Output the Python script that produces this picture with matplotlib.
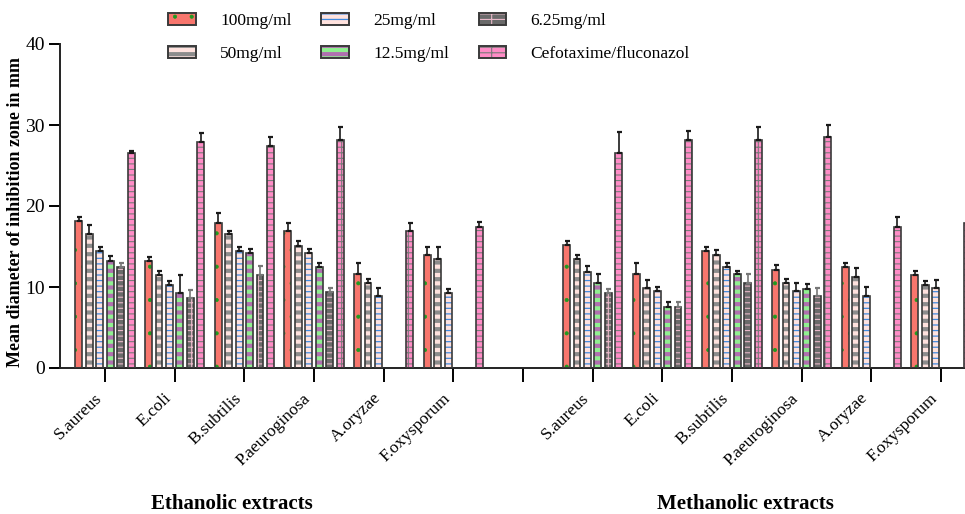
import numpy as np
import matplotlib
matplotlib.use("Agg")
import matplotlib.pyplot as plt
from matplotlib.patches import Patch, Rectangle
from matplotlib.colors import to_rgba
from matplotlib.legend_handler import HandlerTuple

plt.rcParams['font.family'] = ['Liberation Serif', 'DejaVu Serif']

organisms = ['S.aureus', 'E.coli', 'B.subtilis', 'P.aeuroginosa', 'A.oryzae', 'F.oxysporum']
series_names = ['100mg/ml', '50mg/ml', '25mg/ml', '12.5mg/ml', '6.25mg/ml', 'Cefotaxime/fluconazol']
nan = np.nan

eth_100 = [18.2, 13.2, 17.9, 16.9, 11.6, 13.9]
eth_50 = [16.5, 11.5, 16.5, 15.1, 10.5, 13.5]
eth_25 = [14.4, 10.2, 14.4, 14.2, 8.9, 9.2]
eth_12 = [13.2, 9.2, 14.2, 12.5, nan, nan]
eth_6 = [12.5, 8.6, 11.5, 9.4, nan, nan]
eth_std = [26.5, 27.9, 27.4, 28.2, 16.9, 17.4]

eth_100_err = [0.5, 0.5, 1.2, 1.0, 1.4, 1.1]
eth_50_err = [1.1, 0.5, 0.4, 0.6, 0.5, 1.5]
eth_25_err = [0.5, 0.5, 0.5, 0.5, 1.0, 0.5]
eth_12_err = [0.6, 2.3, 0.5, 0.5, nan, nan]
eth_6_err = [0.5, 1.0, 1.1, 0.5, nan, nan]
eth_std_err = [0.3, 1.1, 1.1, 1.6, 1.0, 0.6]

meth_100 = [15.2, 11.6, 14.5, 12.1, 12.5, 11.5]
meth_50 = [13.5, 9.9, 13.9, 10.5, 11.2, 10.2]
meth_25 = [11.9, 9.5, 12.5, 9.5, 8.9, 9.9]
meth_12 = [10.5, 7.5, 11.6, 9.8, nan, nan]
meth_6 = [9.2, 7.5, 10.5, 8.9, nan, nan]
meth_std = [26.5, 28.2, 28.2, 28.5, 17.4, 17.9]

meth_100_err = [0.5, 1.4, 0.5, 0.6, 0.5, 0.5]
meth_50_err = [0.5, 1.0, 0.7, 0.5, 1.2, 0.6]
meth_25_err = [0.7, 0.5, 0.5, 1.0, 1.1, 1.0]
meth_12_err = [1.1, 0.6, 0.4, 0.6, nan, nan]
meth_6_err = [0.5, 0.6, 1.1, 1.0, nan, nan]
meth_std_err = [2.6, 1.1, 1.6, 1.5, 1.3, 0.0]

eth_vals = [eth_100, eth_50, eth_25, eth_12, eth_6, eth_std]
eth_errs = [eth_100_err, eth_50_err, eth_25_err, eth_12_err, eth_6_err, eth_std_err]
meth_vals = [meth_100, meth_50, meth_25, meth_12, meth_6, meth_std]
meth_errs = [meth_100_err, meth_50_err, meth_25_err, meth_12_err, meth_6_err, meth_std_err]

# styles: face, hatch, hatch colour, hatch linewidth
styles = [
    ('#F8766D', '.', '#1f9a1f', 0.5),
    ('#FFE2DE', '--', '#8c8c8c', 3.0),
    ('#FFE2DE', '---', '#3f8ae0', 0.9),
    ('#90F090', '--', '#B070B0', 3.0),
    ('#6A6A6A', '---|', '#E8B8C8', 0.8),
    ('#FF8CC6', '---|', '#7a7a7a', 0.8),
]
edge_col = '#3a3a3a'


def set_hatch_width(p, hlw):
    if hasattr(p, 'set_hatch_linewidth'):
        try:
            p.set_hatch_linewidth(hlw)
        except Exception:
            pass
    orig = p.draw

    def draw(renderer, _orig=orig, _hlw=hlw):
        with plt.rc_context({'hatch.linewidth': _hlw}):
            _orig(renderer)
    p.draw = draw


fig = plt.figure(figsize=(9.65, 5.14), dpi=100)
k = (941 - 105) / 12.0
x_left = (60 - 105) / k
x_right = 12.6
ax = fig.add_axes([60 / 965, (514 - 368) / 514, (x_right - x_left) * k / 965, 324 / 514])

n_groups = len(organisms)
eth_pos = np.arange(n_groups)
meth_pos = np.arange(n_groups) + n_groups + 1
slot = 0.15
bw = 0.10


def draw_series(pos, vals, errs, i):
    face, hatch, hcol, hlw = styles[i]
    v = np.array(vals, dtype=float)
    e = np.array(errs, dtype=float)
    m = ~np.isnan(v)
    x = pos[m] + (i - 2.5) * slot
    with plt.rc_context({'hatch.linewidth': hlw}):
        bars = ax.bar(x, v[m], width=bw, color=face, hatch=hatch, edgecolor=hcol,
                      linewidth=0, zorder=2)
    for b in bars:
        set_hatch_width(b, hlw)
    ax.bar(x, v[m], width=bw, fill=False, edgecolor=edge_col, linewidth=1.2, zorder=3)
    ecol = '#777777' if i == 4 else '#1a1a1a'
    ax.errorbar(x, v[m], yerr=[np.zeros(m.sum()), e[m]], fmt='none', ecolor=ecol,
                elinewidth=1.2, capsize=1.8, capthick=1.6, zorder=4)


for i in range(6):
    draw_series(eth_pos, eth_vals[i], eth_errs[i], i)
    draw_series(meth_pos, meth_vals[i], meth_errs[i], i)

ax.set_xlim(x_left, x_right)
ax.set_ylim(0, 40)
ax.set_yticks([0, 10, 20, 30, 40])
ticks = list(eth_pos) + [n_groups] + list(meth_pos)
labels = organisms + [''] + organisms
ax.set_xticks(ticks)
ax.set_xticklabels(labels, rotation=44, ha='right', va='top', fontsize=12.5)
ax.tick_params(axis='x', length=10, width=1.4, pad=6)
ax.tick_params(axis='y', length=8, width=1.4, labelsize=14, pad=3)
for s in ['top', 'right']:
    ax.spines[s].set_visible(False)
for s in ['left', 'bottom']:
    ax.spines[s].set_linewidth(1.4)
    ax.spines[s].set_color('#222222')

fig.text(16 / 965, 1 - 212 / 514, 'Mean diameter of inhibition zone in mm', rotation=90,
         ha='center', va='center', fontsize=13, fontweight='bold')
fig.text(232 / 965, 1 - 504 / 514, 'Ethanolic extracts', ha='center', va='center',
         fontsize=15, fontweight='bold')
fig.text(745 / 965, 1 - 504 / 514, 'Methanolic extracts', ha='center', va='center',
         fontsize=15, fontweight='bold')

handles = []
for i in range(6):
    face, hatch, hcol, hlw = styles[i]
    hp = Patch(facecolor=face, hatch=hatch, edgecolor=hcol, linewidth=0)
    op = Patch(fill=False, edgecolor=edge_col, linewidth=1.4)
    handles.append((hp, op))
leg = fig.legend(handles, series_names, loc='upper left', ncol=3,
                 handler_map={tuple: HandlerTuple(ndivide=1, pad=0)},
                 bbox_to_anchor=(168 / 965, 1 - 13 / 514), frameon=False, fontsize=12.5,
                 handlelength=1.6, handleheight=0.65, handletextpad=1.4, columnspacing=1.7,
                 labelspacing=1.0, borderpad=0, borderaxespad=0)

for p in leg.findobj(Rectangle):
    if p.get_hatch():
        hc = getattr(p, '_hatch_color', None)
        fc = p.get_facecolor()
        for s in styles:
            if np.allclose(to_rgba(s[0]), fc, atol=2e-3) and p.get_hatch() == s[1] and \
                    (hc is None or np.allclose(to_rgba(s[2]), hc, atol=2e-3)):
                set_hatch_width(p, s[3])
                break

fig.savefig('out.png', dpi=100)
